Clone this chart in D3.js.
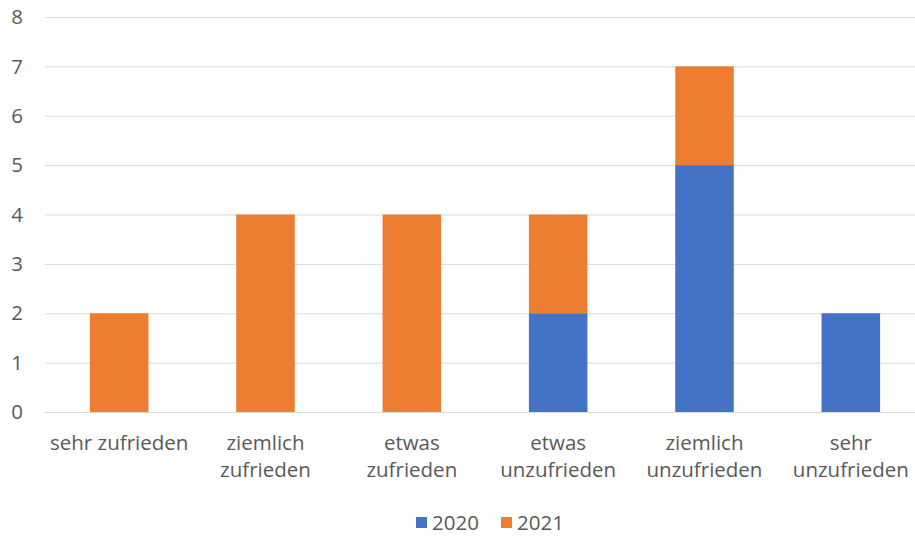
<!DOCTYPE html>
<html>
<head>
<meta charset="utf-8">
<script src="https://cdn.jsdelivr.net/npm/d3@7"></script>
<style>
  body { margin: 0; background: #fff; }
  text { font-family: "Open Sans", sans-serif; fill: #595959; }
</style>
</head>
<body>
<script>
  // data
  var categories = ["sehr zufrieden", "ziemlich zufrieden", "etwas zufrieden", "etwas unzufrieden", "ziemlich unzufrieden", "sehr unzufrieden"]
  var labelLines = [["sehr zufrieden"], ["ziemlich", "zufrieden"], ["etwas", "zufrieden"], ["etwas", "unzufrieden"], ["ziemlich", "unzufrieden"], ["sehr", "unzufrieden"]]
  var series = ["2020", "2021"]
  var values2020 = [0, 0, 0, 2, 5, 2]
  var values2021 = [2, 4, 4, 2, 2, 0]
  var yTicks = [0, 1, 2, 3, 4, 5, 6, 7, 8]
  var colors = ["#4472C4", "#ED7D31"]

  var width = 915, height = 537
  var fs = 20.5

  var svg = d3.select("body").append("svg")
    .attr("width", width).attr("height", height)

  var x = d3.scaleBand().domain(categories).range([46, 924]).paddingInner(0.6).paddingOuter(0.3)
  var y = d3.scaleLinear().domain([0, 8]).range([412, 17])

  // gridlines
  svg.append("g").selectAll("line")
    .data(yTicks)
    .enter().append("line")
    .attr("x1", 45).attr("x2", width)
    .attr("y1", d => y(d) + 0.5).attr("y2", d => y(d) + 0.5)
    .attr("stroke", "#d9d9d9").attr("stroke-width", 1)

  // y tick labels
  svg.append("g").selectAll("text")
    .data(yTicks)
    .enter().append("text")
    .attr("x", 23).attr("y", d => y(d))
    .attr("dy", "0.35em")
    .attr("text-anchor", "end")
    .attr("font-size", fs)
    .text(d => d)

  // stack
  var rows = categories.map((c, i) => ({ cat: c, "2020": values2020[i], "2021": values2021[i] }))
  var stacked = d3.stack().keys(series)(rows)

  svg.append("g").selectAll("g")
    .data(stacked)
    .enter().append("g")
    .attr("fill", (d, i) => colors[i])
    .selectAll("rect")
    .data(d => d)
    .enter().append("rect")
    .attr("x", d => x(d.data.cat))
    .attr("width", x.bandwidth())
    .attr("y", d => y(d[1]))
    .attr("height", d => y(d[0]) - y(d[1]))

  // category labels
  var cl = svg.append("g").selectAll("text")
    .data(categories)
    .enter().append("text")
    .attr("text-anchor", "middle")
    .attr("font-size", fs)
    .attr("y", 450)

  cl.selectAll("tspan")
    .data((d, i) => labelLines[i].map(t => ({ t: t, cat: d })))
    .enter().append("tspan")
    .attr("x", d => x(d.cat) + x.bandwidth() / 2)
    .attr("dy", (d, i) => i === 0 ? 0 : 27)
    .text(d => d.t)

  // legend
  var legendX = [416, 501]
  var lg = svg.append("g").selectAll("g")
    .data(series)
    .enter().append("g")
    .attr("transform", (d, i) => "translate(" + legendX[i] + ",517)")
  lg.append("rect").attr("width", 11).attr("height", 11).attr("fill", (d, i) => colors[i])
  lg.append("text").attr("x", 16).attr("y", 12.5).attr("font-size", fs).text(d => d)
</script>
</body>
</html>
